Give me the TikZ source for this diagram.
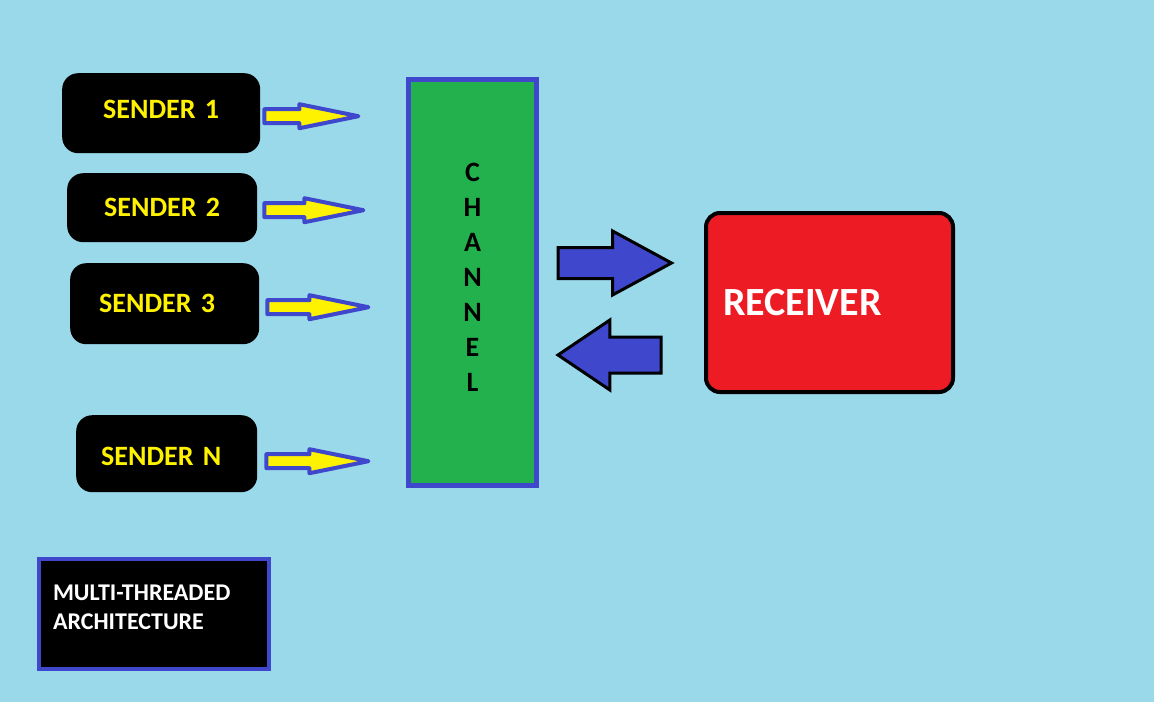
\documentclass[tikz,border=0pt]{standalone}
\usepackage{fontspec}
\setmainfont{Carlito}
\usetikzlibrary{shapes.arrows, positioning}

\definecolor{bgblue}{HTML}{99D9EA}
\definecolor{paintblue}{HTML}{3F48CC}
\definecolor{paintyellow}{HTML}{FFF200}
\definecolor{chgreen}{HTML}{22B14C}
\definecolor{rxred}{HTML}{ED1C24}

\begin{document}
\begin{tikzpicture}[x=1pt, y=-1pt]
	\tikzset{sender/.style={fill=black, rounded corners=16pt, text=paintyellow, align=left, anchor=north west, inner ysep=0pt, font=\bfseries\fontsize{28}{30}\selectfont},
		thin arrow/.style={single arrow, draw=paintblue, fill=paintyellow, line width=4pt, line join=round, inner xsep=0pt, inner ysep=5pt, single arrow head extend=5pt, single arrow tip angle=23},
		fat arrow/.style={single arrow, draw=black, fill=paintblue, line width=3pt, inner xsep=0pt, anchor=tail},
		channel/.style={draw=paintblue, fill=chgreen, line width=5pt, minimum width=128pt, minimum height=406pt, align=center, text depth=10pt, font=\bfseries\fontsize{28}{35}\selectfont},
		receiver/.style={draw=black, fill=rxred, line width=4pt, rounded corners=14pt, minimum height=179pt, text width=213pt, inner xsep=17pt, align=left, text=white, font=\bfseries\fontsize{40}{44}\selectfont},
		legend/.style={draw=paintblue, fill=black, line width=4pt, minimum height=110pt, text width=202pt, inner xsep=14pt, align=left, text=white, text depth=42pt, font=\bfseries\fontsize{24}{29}\selectfont}}

	\fill[bgblue] (0,0) rectangle (1154,702);

	\node[sender, inner xsep=41pt, text width=116pt, minimum height=80pt, text depth=8pt] (s1) at (62,73) {SENDER 1};
	\node[sender, inner xsep=37pt, text width=116pt, minimum height=69pt] (s2) at (67,173) {SENDER 2};
	\node[sender, inner xsep=29pt, text width=131pt, minimum height=81pt] (s3) at (70,263) {SENDER 3};
	\node[sender, inner xsep=25pt, text width=131pt, minimum height=77pt, text height=23pt] (sN) at (76,415) {SENDER N};

	\node[thin arrow, minimum height=94pt, right=2pt of s1, yshift=-3pt] (a1) {};
	\node[thin arrow, minimum height=99pt, right=5pt of s2, yshift=-2.5pt] (a2) {};
	\node[thin arrow, minimum height=101pt, right=6pt of s3, yshift=-3.5pt] (a3) {};
	\node[thin arrow, minimum height=102pt, right=7pt of sN, yshift=-7.5pt] (aN) {};

	\node[channel] (chan) at (472.5,282.5) {C\\H\\A\\N\\N\\E\\L};

	\node[receiver] (recv) at (829.5,302.5) {RECEIVER};

	\node[fat arrow, inner ysep=14pt, minimum height=113.5pt, single arrow head extend=16.5pt, single arrow tip angle=57] (fwd) at (556.5,263) {};
	\node[fat arrow, inner ysep=16.5pt, shape border rotate=180, minimum height=103pt, single arrow head extend=17pt, single arrow tip angle=68] (back) at (662.5,355) {};

	\node[legend] (arch) at (154,614) {MULTI-THREADED\\ARCHITECTURE};
\end{tikzpicture}
\end{document}
